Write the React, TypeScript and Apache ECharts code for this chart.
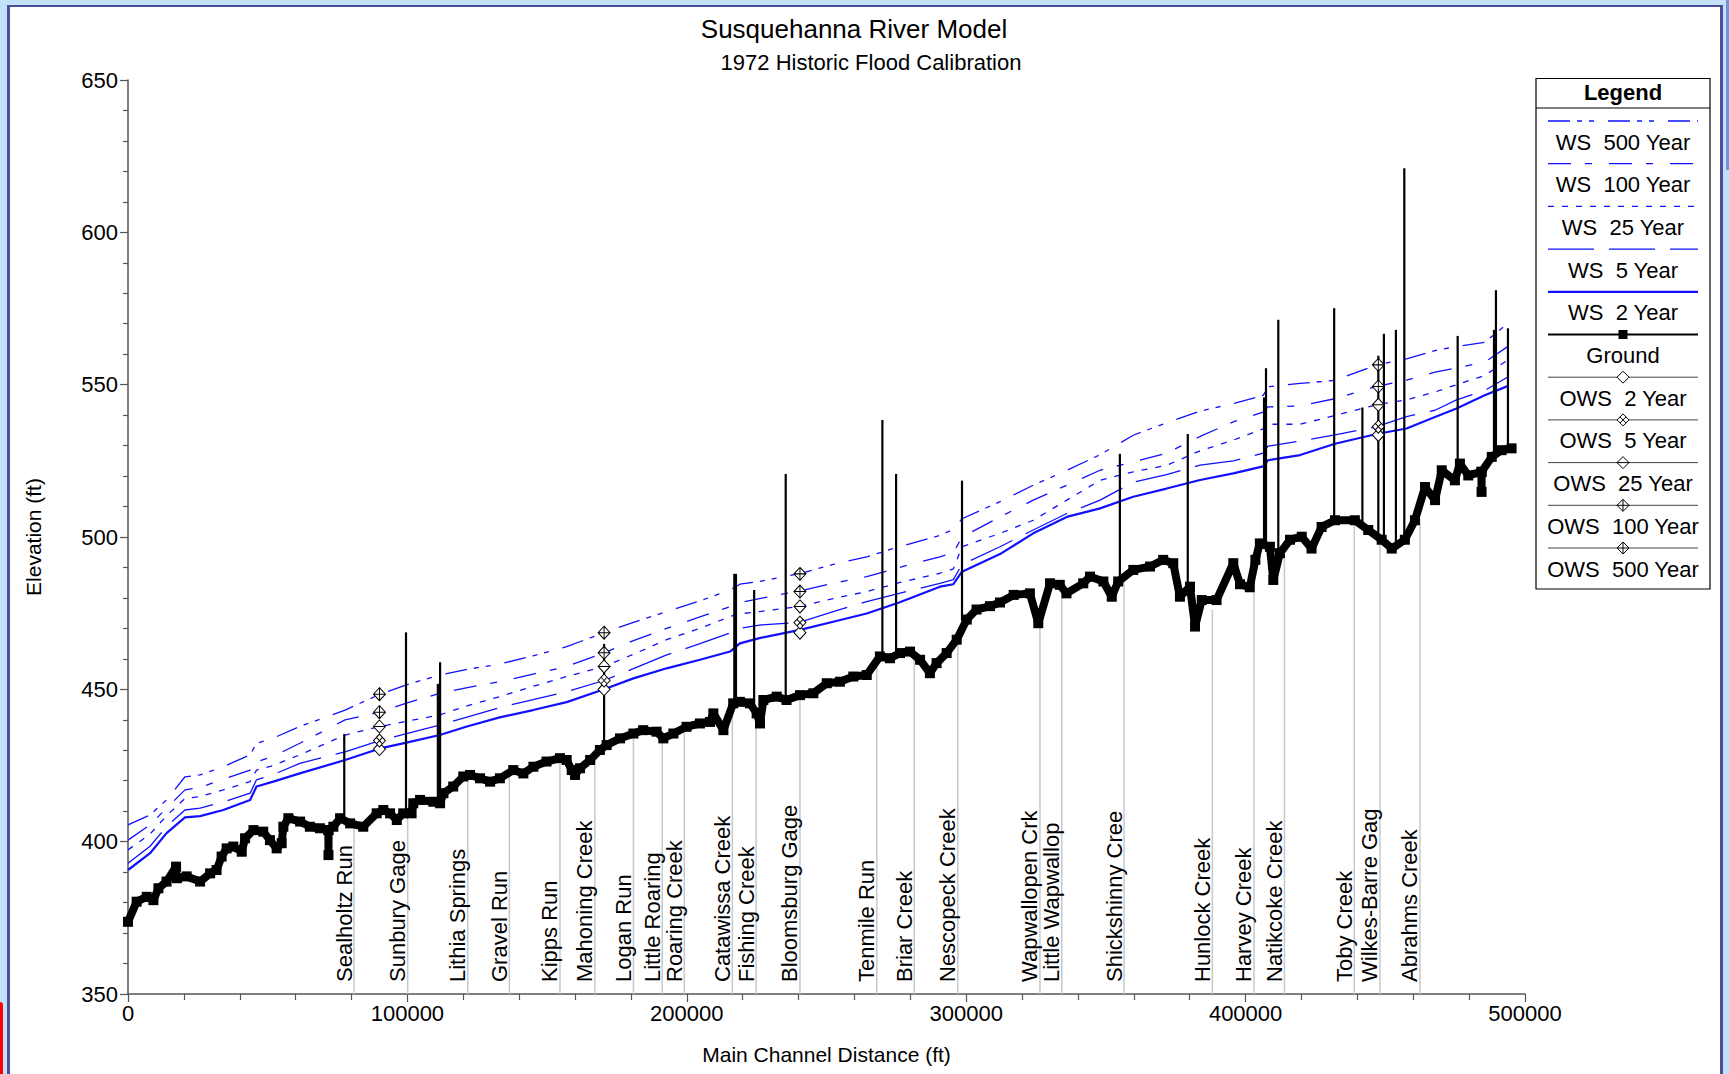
import React, { useEffect, useRef } from "react";
import * as echarts from "echarts";

const FONT = "'Liberation Sans', Arial, Helvetica, sans-serif";

// ---------- Ground profile (distance ft, elevation ft) ----------
const groundDist = [
  0, 3100, 6700, 9100, 10900, 13800, 17200, 17500, 21000, 25800, 29400, 31700, 33500, 35300, 37700, 40700,
  41900, 44900, 48400, 50800, 53200, 55000, 55600, 57400, 61600, 65100, 68700, 71700, 71750, 71800, 73500,
  75900, 79500, 84200, 89000, 91400, 93800, 96200, 98500, 101500, 102100, 104500, 109300, 111700, 112900,
  116400, 120000, 122400, 126000, 129600, 133100, 137900, 141500, 145100, 149800, 154600, 157000, 158800,
  160000, 161800, 165400, 168900, 171300, 176100, 180900, 184400, 189200, 191600, 195200, 199900, 204700,
  208300, 209500, 213100, 216600, 219000, 222600, 225000, 226200, 227400, 232200, 235700, 240500, 245300,
  250100, 254800, 259600, 264400, 269100, 272700, 276300, 279900, 283500, 287000, 289400, 293000, 296600,
  300200, 303700, 308500, 312100, 317000, 322800, 325800, 330000, 333500, 335900, 341900, 344300, 349100,
  352100, 354400, 359800, 365800, 370500, 374100, 376500, 380100, 381900, 384300, 389600, 395600, 398000,
  401500, 403500, 405100, 408700, 409900, 412300, 415900, 420100, 423600, 427200, 432000, 439100, 443900,
  448700, 452300, 457000, 460600, 464200, 467800, 470200, 474900, 476700, 479700, 484400, 484450, 484500,
  488100, 491600, 495200,
];
const groundElev = [
  373.7, 380.3, 381.9, 380.8, 384.7, 386.9, 391.8, 388.0, 388.6, 386.9, 389.6, 390.7, 395.1, 397.8, 398.4, 396.7,
  401.1, 403.8, 403.3, 400.5, 397.8, 399.5, 404.9, 407.7, 406.6, 404.9, 404.4, 403.8, 395.6, 403.8, 404.9,
  407.7, 406.0, 404.9, 409.3, 410.4, 409.3, 407.1, 409.3, 409.3, 412.6, 413.7, 413.1, 412.6, 415.9,
  418.1, 421.4, 421.9, 420.8, 419.7, 420.8, 423.5, 422.4, 424.6, 426.3, 427.4, 426.8, 423.5,
  421.9, 424.1, 426.8, 430.1, 431.7, 433.9, 435.5, 436.6, 436.1, 433.9, 435.5, 437.7, 438.8,
  439.3, 442.1, 436.6, 445.4, 445.9, 445.4, 442.1, 438.8, 446.5, 447.6, 446.5, 448.1, 448.7,
  452.0, 452.5, 454.2, 454.7, 460.8, 460.2, 461.9, 462.4, 459.7, 455.3, 458.6, 461.9, 466.3,
  472.9, 476.2, 477.3, 478.5, 481.0, 481.5, 471.7, 484.8, 484.3, 481.5, 484.8, 487.0, 485.4,
  480.4, 485.4, 489.2, 490.3, 492.5, 491.4, 480.4, 483.7, 470.6, 479.3, 479.3, 491.4, 484.5,
  483.5, 492.5, 497.9, 496.8, 485.9, 494.7, 499.1, 500.1, 496.2, 503.3, 505.5, 505.5, 502.3,
  499.1, 496.2, 499.1, 505.5, 516.4, 512.1, 521.9, 518.6, 524.1, 520.2, 521.4, 514.8, 521.4,
  526.3, 528.5, 529.1,
];

// ---------- Water surface profiles (common distance stations) ----------
const wsDist = [
  0, 7900, 13800, 20400, 25800, 34100, 43700, 46000, 52000, 61500, 77700, 90200, 99700, 111600, 121000,
  133000, 145000, 157000, 170400, 180900, 192800, 204700, 215500, 219000, 226000, 240500, 252400, 264400,
  276000, 290600, 295400, 298500, 312100, 324000, 336000, 347900, 359800, 371700, 383700, 395600, 406300,
  408000, 419500, 432000, 446900, 457600, 467800, 475500, 485600, 494000,
];
const ws2 = [
  390.7, 396.2, 402.8, 408.0, 408.4, 410.4, 413.7, 418.1, 419.7, 422.4, 426.8, 430.6, 432.5, 435.0, 437.7,
  440.8, 443.2, 445.8, 450.0, 453.6, 456.9, 459.7, 462.4, 465.1, 466.8, 469.5, 472.2, 474.9,
  478.5, 483.7, 484.5, 488.6, 494.4, 501.2, 506.6, 509.4, 513.2, 515.9, 518.7, 520.9, 523.2,
  525.2, 526.9, 530.6, 533.8, 535.6, 539.4, 542.2, 546.5, 549.6,
];
const ws5 = [
  392.9, 398.5, 405.0, 410.4, 411.0, 413.0, 415.9, 420.3, 422.0, 425.7, 429.5, 433.2, 435.5, 438.3, 440.8,
  444.0, 446.6, 449.2, 452.9, 456.8, 461.3, 465.0, 468.5, 470.0, 471.1, 472.0, 475.5, 478.8,
  481.5, 484.8, 486.0, 491.0, 496.8, 502.3, 507.7, 512.1, 518.0, 520.5, 523.6, 525.0, 527.5,
  529.8, 531.5, 533.5, 536.2, 539.5, 541.6, 545.0, 548.1, 552.6,
];
const ws25 = [
  397.3, 402.5, 408.5, 414.2, 414.8, 417.0, 419.7, 423.5, 425.0, 428.5, 435.0, 437.8, 439.5, 441.6, 444.5,
  447.6, 451.0, 454.2, 457.5, 461.5, 466.3, 470.0, 473.9, 474.8, 475.5, 477.2, 479.8, 482.1,
  485.0, 488.1, 489.5, 496.8, 501.2, 505.5, 512.1, 518.6, 521.4, 523.5, 528.3, 531.8, 535.5,
  537.0, 537.0, 539.9, 543.4, 545.0, 547.6, 550.0, 553.0, 558.2,
];
const ws100 = [
  400.5, 405.5, 411.0, 417.0, 417.8, 420.5, 423.5, 426.2, 428.0, 432.3, 440.0, 442.5, 445.5, 448.7, 450.5,
  452.5, 455.0, 457.5, 462.0, 466.0, 470.0, 473.8, 477.1, 478.5, 479.8, 482.3, 484.8, 487.0,
  490.0, 493.5, 494.8, 500.0, 506.6, 512.1, 517.0, 521.9, 524.7, 527.5, 533.0, 537.8, 541.0,
  542.7, 543.0, 545.4, 549.4, 551.5, 554.1, 555.5, 557.4, 562.6,
];
const ws500 = [
  405.5, 408.8, 413.7, 421.3, 421.9, 424.6, 428.5, 432.3, 434.0, 437.8, 443.2, 448.4, 451.5, 454.7, 456.5,
  458.3, 461.0, 464.0, 468.6, 472.0, 475.5, 479.0, 482.6, 484.5, 485.4, 488.0, 491.0, 493.5,
  496.8, 500.5, 502.5, 506.0, 511.6, 517.0, 521.9, 527.0, 533.4, 537.5, 541.3, 543.8, 546.5,
  549.3, 550.4, 551.4, 556.5, 558.5, 561.2, 562.5, 563.9, 570.2,
];

// ---------- Observed water surfaces at gages ----------
const owsDist = [90000, 170400, 240500, 447500];
const ows2 = [430.4, 450.0, 468.6, 533.5];
const ows5 = [433.2, 452.9, 471.9, 536.2];
const ows25 = [437.8, 457.5, 477.2, 543.4];
const ows100 = [442.5, 462.0, 482.1, 549.4];
const ows500 = [448.4, 468.6, 487.9, 556.5];

// ---------- Bridges / structures (vertical black lines) ----------
const structDist = [
  77400, 99500, 110900, 111700, 170400, 217000, 217600, 224100, 235400, 270000, 274900, 298500, 355000,
  379300, 406600, 407300, 411700, 431700, 441800, 447500, 449500, 453800, 456800, 475900, 488900, 489600, 493900,
];
const structBottom = [
  406, 409.5, 414, 414, 431.7, 445.5, 445.5, 443.5, 446.5, 460.5, 462, 472.5, 487,
  481, 497, 497, 489, 505.5, 502.3, 499.5, 499, 497, 498.5, 519, 526, 526, 529,
];
const structTop = [
  435.3, 468.7, 451.8, 458.9, 464.9, 487.9, 487.9, 482.6, 520.7, 538.4, 520.7, 518.5, 527.3,
  533.8, 545.8, 555.4, 571.3, 575.1, 542.5, 559.5, 566.7, 568, 621, 566, 568, 581, 568.5,
];

// ---------- Tributary / location labels ----------
const tribNames = [
  "Sealholtz Run", "Sunbury Gage", "Lithia Springs", "Gravel Run", "Kipps Run", "Mahoning Creek",
  "Logan Run", "Little Roaring", "Roaring Creek", "Catawissa Creek", "Fishing Creek", "Bloomsburg Gage",
  "Tenmile Run", "Briar Creek", "Nescopeck Creek", "Wapwallopen Crk", "Little Wapwallop", "Shickshinny Cree",
  "Hunlock Creek", "Harvey Creek", "Natikcoke Creek", "Toby Creek", "Wilkes-Barre Gag", "Abrahms Creek",
];
const tribDist = [
  80900, 100100, 121600, 136500, 154600, 167100, 180900, 191200, 199100, 216300, 224800, 240500,
  268000, 281400, 297000, 326400, 334200, 356500, 388100, 403000, 413900, 438900, 448100, 462400,
];
const tribGround = [
  406, 409.3, 421.6, 423.3, 427.4, 429.5, 435.5, 434, 437.6, 445, 441, 448,
  459.5, 462, 467, 471, 482.5, 485.4, 476, 482, 494, 505.5, 499.5, 506,
];

// ---------- Axis ticks ----------
const xTicks = { min: 0, max: 500000, interval: 100000 };
const yTicks = { min: 350, max: 650, interval: 50 };

const BLUE = "#1010ff";
const DASH500 = [22, 7, 5, 7, 5, 14];
const DASH100 = [23, 14, 7, 17];
const DASH25 = [6, 8];
const DASH5 = [46, 15];

const DIA = "M0,-6L6,0L0,6L-6,0Z";
const owsSymbols = [
  "path://" + DIA,
  "path://" + DIA + "M-3,-3L3,3M-3,3L3,-3",
  "path://" + DIA + "M-6,0L6,0",
  "path://" + DIA + "M0,-6L0,6M-6,0L6,0",
  "path://" + DIA + "M0,-6L0,6M-6,0L6,0",
];

const legendItems = [
  { name: "WS  500 Year", kind: "ws", dash: DASH500, width: 1.3 },
  { name: "WS  100 Year", kind: "ws", dash: DASH100, width: 1.3 },
  { name: "WS  25 Year", kind: "ws", dash: DASH25, width: 1.3 },
  { name: "WS  5 Year", kind: "ws", dash: DASH5, width: 1.3 },
  { name: "WS  2 Year", kind: "ws", dash: null, width: 2.2 },
  { name: "Ground", kind: "ground" },
  { name: "OWS  2 Year", kind: "ows", mark: 0 },
  { name: "OWS  5 Year", kind: "ows", mark: 1 },
  { name: "OWS  25 Year", kind: "ows", mark: 2 },
  { name: "OWS  100 Year", kind: "ows", mark: 3 },
  { name: "OWS  500 Year", kind: "ows", mark: 4 },
];

function buildLegend() {
  const L = 1536, R = 1710, T = 78.5, B = 589;
  const cx = (L + R) / 2;
  const els: any[] = [
    { type: "rect", shape: { x: L, y: T, width: R - L, height: B - T }, style: { fill: "#fff", stroke: "#000", lineWidth: 1.2 }, z: 50 },
    { type: "line", shape: { x1: L, y1: 108, x2: R, y2: 108 }, style: { stroke: "#000", lineWidth: 1.2 }, z: 51 },
    { type: "text", x: cx, y: 92.5, style: { text: "Legend", fontSize: 22, fontWeight: "bold", fontFamily: FONT, fill: "#000", align: "center", verticalAlign: "middle" }, z: 51 },
  ];
  legendItems.forEach((it: any, i) => {
    const ly = 121 + i * 42.7;
    const ty = ly + 21;
    if (it.kind === "ws") {
      els.push({ type: "line", shape: { x1: 1548, y1: ly, x2: 1698, y2: ly }, style: { stroke: BLUE, lineWidth: it.width, lineDash: it.dash || null }, z: 51 });
    } else if (it.kind === "ground") {
      els.push({ type: "line", shape: { x1: 1548, y1: ly, x2: 1698, y2: ly }, style: { stroke: "#000", lineWidth: 2 }, z: 51 });
      els.push({ type: "rect", shape: { x: cx - 4.5, y: ly - 4.5, width: 9, height: 9 }, style: { fill: "#000" }, z: 52 });
    } else {
      els.push({ type: "line", shape: { x1: 1548, y1: ly, x2: 1698, y2: ly }, style: { stroke: "#444", lineWidth: 1 }, z: 51 });
      els.push({ type: "polygon", shape: { points: [[cx, ly - 6], [cx + 6, ly], [cx, ly + 6], [cx - 6, ly]] }, style: { fill: "#fff", stroke: "#000", lineWidth: 1 }, z: 52 });
      if (it.mark === 1) {
        els.push({ type: "line", shape: { x1: cx - 3, y1: ly - 3, x2: cx + 3, y2: ly + 3 }, style: { stroke: "#000", lineWidth: 1 }, z: 53 });
        els.push({ type: "line", shape: { x1: cx - 3, y1: ly + 3, x2: cx + 3, y2: ly - 3 }, style: { stroke: "#000", lineWidth: 1 }, z: 53 });
      } else if (it.mark === 2) {
        els.push({ type: "line", shape: { x1: cx - 6, y1: ly, x2: cx + 6, y2: ly }, style: { stroke: "#000", lineWidth: 1 }, z: 53 });
      } else if (it.mark >= 3) {
        els.push({ type: "line", shape: { x1: cx - 6, y1: ly, x2: cx + 6, y2: ly }, style: { stroke: "#000", lineWidth: 1 }, z: 53 });
        els.push({ type: "line", shape: { x1: cx, y1: ly - 6, x2: cx, y2: ly + 6 }, style: { stroke: "#000", lineWidth: 1 }, z: 53 });
      }
    }
    els.push({ type: "text", x: cx, y: ty, style: { text: it.name, fontSize: 22, fontFamily: FONT, fill: "#000", align: "center", verticalAlign: "middle" }, z: 51 });
  });
  return els;
}

function wsSeries(name: string, values: number[], dash: any, width: number) {
  return {
    type: "line",
    name,
    data: wsDist.map((d, i) => [d, values[i]]),
    symbol: "none",
    lineStyle: { color: BLUE, width, type: dash || "solid" },
    z: 3,
    silent: true,
  };
}

function owsSeries(name: string, values: number[], idx: number) {
  return {
    type: "scatter",
    name,
    data: owsDist.map((d, i) => [d, values[i]]),
    symbol: owsSymbols[idx],
    symbolSize: [12, 13],
    itemStyle: { color: "#fff", borderColor: "#000", borderWidth: 1, opacity: 1 },
    z: 7,
    silent: true,
  };
}

const axisColor = "#555";

function buildOption() {
  return {
    animation: false,
    backgroundColor: "transparent",
    textStyle: { fontFamily: FONT },
    grid: { left: 128, right: 204, top: 80, bottom: 80, containLabel: false, outerBoundsMode: "none" },
    graphic: [
      { type: "text", x: 854, y: 29, style: { text: "Susquehanna River Model", fontSize: 26, fontFamily: FONT, fill: "#000", align: "center", verticalAlign: "middle" } },
      { type: "text", x: 871, y: 62, style: { text: "1972 Historic Flood Calibration", fontSize: 22, fontFamily: FONT, fill: "#000", align: "center", verticalAlign: "middle" } },
      ...buildLegend(),
    ],
    xAxis: {
      type: "value",
      min: xTicks.min,
      max: xTicks.max,
      interval: xTicks.interval,
      name: "Main Channel Distance (ft)",
      nameLocation: "middle",
      nameGap: 50,
      nameTextStyle: { fontSize: 21, color: "#000", fontFamily: FONT },
      axisLine: { show: true, onZero: false, lineStyle: { color: axisColor, width: 1.5 } },
      axisTick: { show: true, inside: false, length: 8, lineStyle: { color: axisColor, width: 1.2 } },
      minorTick: { show: true, splitNumber: 5, length: 6, lineStyle: { color: axisColor, width: 1.2 } },
      axisLabel: { fontSize: 22, color: "#000", margin: 8, fontFamily: FONT, showMinLabel: true, showMaxLabel: true, hideOverlap: false, formatter: (v: number) => String(v) },
      splitLine: { show: false },
      minorSplitLine: { show: false },
    },
    yAxis: {
      type: "value",
      min: yTicks.min,
      max: yTicks.max,
      interval: yTicks.interval,
      name: "Elevation (ft)",
      nameLocation: "middle",
      nameGap: 84,
      nameTextStyle: { fontSize: 21, color: "#000", fontFamily: FONT },
      axisLine: { show: true, onZero: false, lineStyle: { color: axisColor, width: 1.5 } },
      axisTick: { show: true, inside: false, length: 8, lineStyle: { color: axisColor, width: 1.2 } },
      minorTick: { show: true, splitNumber: 5, length: 5, lineStyle: { color: axisColor, width: 1.2 } },
      axisLabel: { fontSize: 22, color: "#000", margin: 10, fontFamily: FONT, showMinLabel: true, showMaxLabel: true, hideOverlap: false, formatter: (v: number) => String(v) },
      splitLine: { show: false },
      minorSplitLine: { show: false },
    },
    series: [
      {
        type: "custom",
        name: "Locations",
        silent: true,
        z: 1,
        clip: false,
        data: tribDist.map((d, i) => [d, tribGround[i]]),
        encode: { x: 0, y: 1 },
        renderItem: (params: any, api: any) => {
          const d = api.value(0);
          const g = api.value(1);
          const base = api.coord([d, yTicks.min]);
          const top = api.coord([d, g]);
          return {
            type: "group",
            children: [
              { type: "line", shape: { x1: base[0], y1: base[1], x2: top[0], y2: top[1] }, style: { stroke: "#c8c8c8", lineWidth: 1.5 } },
              {
                type: "text",
                x: base[0] + 1,
                y: base[1] - 12,
                rotation: Math.PI / 2,
                style: { text: tribNames[params.dataIndex], fontSize: 22, fontFamily: FONT, fill: "#000", align: "left", verticalAlign: "bottom" },
              },
            ],
          };
        },
      },
      wsSeries("WS  500 Year", ws500, DASH500, 1.3),
      wsSeries("WS  100 Year", ws100, DASH100, 1.3),
      wsSeries("WS  25 Year", ws25, DASH25, 1.3),
      wsSeries("WS  5 Year", ws5, DASH5, 1.3),
      wsSeries("WS  2 Year", ws2, null, 2.2),
      {
        type: "line",
        name: "Ground",
        data: groundDist.map((d, i) => [d, groundElev[i]]),
        symbol: "rect",
        symbolSize: 10,
        showSymbol: true,
        showAllSymbol: true,
        lineStyle: { color: "#000", width: 8, join: "round" },
        itemStyle: { color: "#000" },
        z: 4,
        silent: true,
      },
      {
        type: "custom",
        name: "Structures",
        silent: true,
        z: 5,
        data: structDist.map((d, i) => [d, structBottom[i], structTop[i]]),
        encode: { x: 0, y: [1, 2] },
        renderItem: (params: any, api: any) => {
          const p1 = api.coord([api.value(0), api.value(1)]);
          const p2 = api.coord([api.value(0), api.value(2)]);
          return { type: "line", shape: { x1: p1[0], y1: p1[1], x2: p2[0], y2: p2[1] }, style: { stroke: "#000", lineWidth: 2.2 } };
        },
      },
      owsSeries("OWS  2 Year", ows2, 0),
      owsSeries("OWS  5 Year", ows5, 1),
      owsSeries("OWS  25 Year", ows25, 2),
      owsSeries("OWS  100 Year", ows100, 3),
      owsSeries("OWS  500 Year", ows500, 4),
    ],
  };
}

export default function App() {
  const ref = useRef<HTMLDivElement>(null);
  useEffect(() => {
    if (!ref.current) return;
    const chart = echarts.init(ref.current, null, { renderer: "svg" });
    chart.setOption(buildOption() as any);
    return () => chart.dispose();
  }, []);
  return (
    <div style={{ position: "fixed", left: 0, top: 0, width: 1729, height: 1074, background: "#c4e1fb", overflow: "hidden" }}>
      <div style={{ position: "absolute", left: 7, top: 5, width: 1716, height: 1069, background: "#4b4e98" }} />
      <div style={{ position: "absolute", left: 10, top: 7, width: 1710, height: 1067, background: "#ffffff" }} />
      <div style={{ position: "absolute", left: 1726, top: 0, width: 3, height: 170, background: "#7a8fd8" }} />
      <div style={{ position: "absolute", left: 0, top: 1002, width: 3, height: 72, background: "#ff0000", borderTopRightRadius: 3 }} />
      <div ref={ref} style={{ position: "absolute", left: 0, top: 0, width: 1729, height: 1074 }} />
    </div>
  );
}
